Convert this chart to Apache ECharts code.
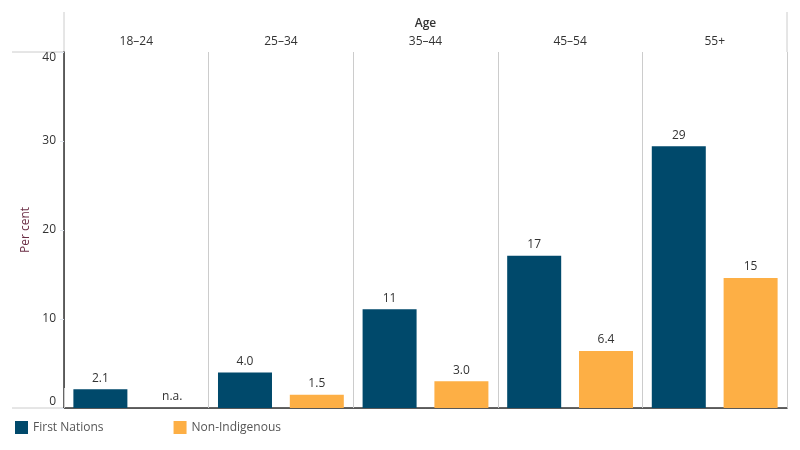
<!DOCTYPE html>
<html>
<head>
<meta charset="utf-8">
<script src="https://cdn.jsdelivr.net/npm/echarts@6/dist/echarts.min.js"></script>
<style>
  html, body { margin: 0; padding: 0; background: #fff; }
  #chart { width: 800px; height: 450px; }
</style>
</head>
<body>
<div id="chart"></div>
<script>
var ageGroups = ['18–24', '25–34', '35–44', '45–54', '55+'];
var firstNations = [2.1, 4.0, 11.1, 17.1, 29.4];
var nonIndigenous = [null, 1.5, 3.0, 6.4, 14.6];
var yTicks = { min: 0, max: 40, interval: 10 };

(function () {
  var FONT = '"Open Sans", sans-serif';
  var TEXT = '#333333';
  var LIGHT = '#cccccc';
  var DARK = '#333333';
  var grid = { left: 64, right: 13, top: 52, bottom: 42 };

  function formatValue(value) {
    return value >= 10 ? value.toFixed(0) : value.toFixed(1);
  }

  function barData(values) {
    return values.map(function (v) {
      if (v == null) {
        return { value: 0, label: { formatter: 'n.a.' } };
      }
      return v;
    });
  }

  var chart = echarts.init(document.getElementById('chart'));
  var right = 800 - grid.right;
  var bottom = 450 - grid.bottom;

  var option = {
    animation: false,
    textStyle: { fontFamily: FONT },
    grid: { left: grid.left, right: grid.right, top: grid.top, bottom: grid.bottom },
    legend: {
      left: 10,
      top: 416,
      itemWidth: 13,
      itemHeight: 13,
      itemGap: 70,
      icon: 'rect',
      textStyle: { color: '#555', fontSize: 12, fontFamily: FONT }
    },
    xAxis: [
      {
        type: 'category',
        position: 'top',
        data: ageGroups,
        name: 'Age',
        nameLocation: 'middle',
        nameGap: 22,
        nameTextStyle: { color: TEXT, fontSize: 12, fontWeight: 600 },
        axisLine: { show: true, lineStyle: { color: LIGHT, width: 1 } },
        axisTick: { show: true, length: 20, interval: 0, lineStyle: { color: LIGHT } },
        axisLabel: { color: TEXT, fontSize: 12, margin: 4 },
        splitLine: { show: true, interval: 0, lineStyle: { color: LIGHT } }
      },
      {
        type: 'category',
        position: 'bottom',
        data: ageGroups,
        axisLine: { show: true, lineStyle: { color: DARK, width: 1.5 } },
        axisTick: { show: false },
        axisLabel: { show: false },
        splitLine: { show: false }
      }
    ],
    yAxis: {
      type: 'value',
      min: yTicks.min,
      max: yTicks.max,
      interval: yTicks.interval,
      name: 'Per cent',
      nameLocation: 'middle',
      nameGap: 26,
      nameTextStyle: { color: '#6b2e45', fontSize: 12 },
      axisLine: { show: true, lineStyle: { color: DARK, width: 1.5 } },
      axisTick: { show: true, length: 4, lineStyle: { color: '#e0e6ee' } },
      axisLabel: {
        color: TEXT,
        fontSize: 12,
        margin: 8,
        verticalAlignMinLabel: 'bottom',
        verticalAlignMaxLabel: 'top'
      },
      splitLine: { show: false }
    },
    series: [
      {
        name: 'First Nations',
        type: 'bar',
        barWidth: 54,
        barGap: '33%',
        itemStyle: { color: '#00496b' },
        label: {
          show: true,
          position: 'top',
          distance: 5,
          color: TEXT,
          fontSize: 12,
          formatter: function (p) { return formatValue(p.value); }
        },
        data: barData(firstNations)
      },
      {
        name: 'Non-Indigenous',
        type: 'bar',
        barWidth: 54,
        barGap: '33%',
        itemStyle: { color: '#fdaf45' },
        label: {
          show: true,
          position: 'top',
          distance: 5,
          color: TEXT,
          fontSize: 12,
          formatter: function (p) { return formatValue(p.value); }
        },
        data: barData(nonIndigenous)
      }
    ],
    graphic: [
      // frame pieces outside the plotting grid
      { type: 'line', shape: { x1: 12, y1: grid.top, x2: grid.left, y2: grid.top }, style: { stroke: LIGHT, lineWidth: 1 } },
      { type: 'line', shape: { x1: 12, y1: bottom, x2: grid.left, y2: bottom }, style: { stroke: LIGHT, lineWidth: 1 } },
      { type: 'line', shape: { x1: grid.left, y1: 12, x2: grid.left, y2: grid.top }, style: { stroke: LIGHT, lineWidth: 1 } },
      { type: 'line', shape: { x1: right, y1: 12, x2: right, y2: grid.top }, style: { stroke: LIGHT, lineWidth: 1 } }
    ]
  };

  chart.setOption(option);
})();
</script>
</body>
</html>
